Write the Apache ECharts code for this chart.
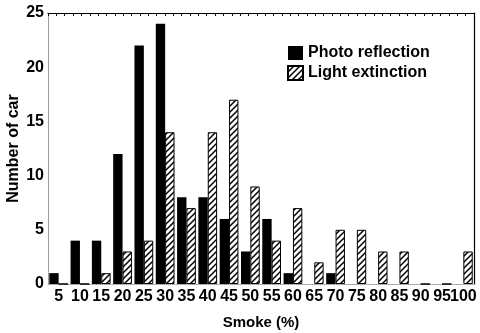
<!DOCTYPE html>
<html><head><meta charset="utf-8">
<script src="https://cdn.jsdelivr.net/npm/echarts@6/dist/echarts.min.js"></script>
<style>html,body{margin:0;padding:0;background:#fff}#c{width:480px;height:333px}</style>
</head><body><div id="c"></div>
<script>
var categories = ['5','10','15','20','25','30','35','40','45','50','55','60','65','70','75','80','85','90','95','100'];
var photoReflection = [1,4,4,12,22,24,8,8,6,3,6,1,0,1,0,0,0,0,0,0];
var lightExtinction = [0,0,1,3,4,14,7,14,17,9,4,7,2,5,5,3,3,0,0,3];
var yTicks = [0,5,10,15,20,25];

function hatch(){
  var c = document.createElement('canvas');
  c.width = 6; c.height = 6;
  var g = c.getContext('2d');
  g.fillStyle = '#fff'; g.fillRect(0,0,6,6);
  g.strokeStyle = '#000'; g.lineWidth = 1.5;
  g.beginPath();
  g.moveTo(-1,7); g.lineTo(7,-1);
  g.moveTo(-4,4); g.lineTo(4,-4);
  g.moveTo(2,10); g.lineTo(10,2);
  g.stroke();
  return c;
}
var pat = {image: hatch(), repeat: 'repeat'};
var F = 'Liberation Sans, Arial, sans-serif';
var chart = echarts.init(document.getElementById('c'));
chart.setOption({
  animation: false,
  backgroundColor: '#fff',
  grid: {left: 48, right: 6, top: 13, bottom: 49, containLabel: false, outerBoundsMode: 'none'},
  legend: {
    left: 282, top: 40, orient: 'vertical', itemGap: 4, itemWidth: 15, itemHeight: 14,
    textStyle: {fontFamily: F, fontWeight: 'bold', fontSize: 16, color: '#000'},
    data: [{name: 'Photo reflection', icon: 'rect'}, {name: 'Light extinction', icon: 'rect'}]
  },
  xAxis: [{
    type: 'category', data: categories, position: 'bottom',
    name: 'Smoke (%)', nameLocation: 'middle', nameGap: 31, nameMoveOverlap: false,
    nameTextStyle: {fontFamily: F, fontWeight: 'bold', fontSize: 15, color: '#000'},
    axisLine: {onZero: false, lineStyle: {color: '#999', width: 1, type: 'dotted'}},
    axisTick: {show: false},
    axisLabel: {interval: 0, fontFamily: F, fontWeight: 'bold', fontSize: 16, color: '#000', margin: 5}
  }, {
    type: 'value', position: 'top', min: 0, max: 51, interval: 1,
    axisLine: {show: true, onZero: false, lineStyle: {color: '#000', width: 1.2}},
    axisTick: {show: true, inside: true, length: 3, lineStyle: {color: '#000'}},
    axisLabel: {show: false}, splitLine: {show: false}
  }],
  yAxis: [{
    type: 'value', min: 0, max: 25, interval: 5,
    name: 'Number of car', nameLocation: 'middle', nameGap: 26, nameMoveOverlap: false,
    nameTextStyle: {fontFamily: F, fontWeight: 'bold', fontSize: 16, color: '#000'},
    axisLine: {show: true, onZero: false, lineStyle: {color: '#888', type: 'dotted'}},
    axisTick: {show: false},
    axisLabel: {fontFamily: F, fontWeight: 'bold', fontSize: 16, color: '#000', margin: 4,
      formatter: function(v){ return yTicks.indexOf(v) >= 0 ? String(v) : ''; }},
    splitLine: {show: false}
  }, {
    type: 'value', position: 'right', min: 0, max: 25,
    axisLine: {show: true, onZero: false, lineStyle: {color: '#000', width: 1.2}},
    axisTick: {show: false}, axisLabel: {show: false}, splitLine: {show: false}
  }],
  series: [{
    name: 'Photo reflection', type: 'bar', data: photoReflection,
    barGap: '0%', barCategoryGap: '12%',
    itemStyle: {color: '#000', borderColor: '#000', borderWidth: 0}
  }, {
    name: 'Light extinction', type: 'bar', data: lightExtinction,
    itemStyle: {color: pat, borderColor: '#000', borderWidth: 1}
  }]
});
</script></body></html>
